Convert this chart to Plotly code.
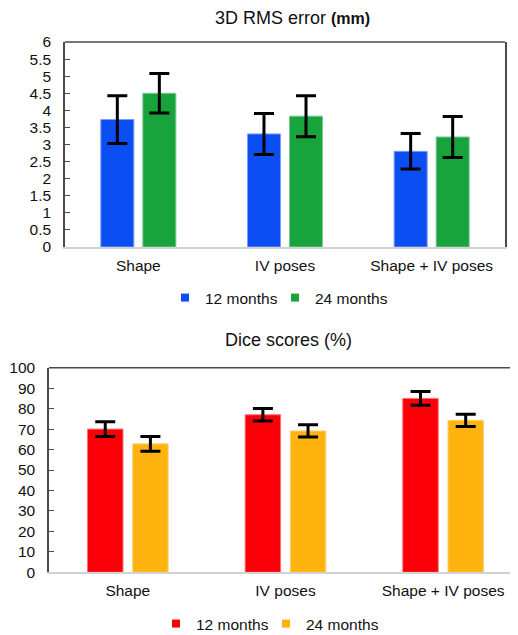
import plotly.graph_objects as go

categories = ["Shape", "IV poses", "Shape + IV poses"]
series_names = ["12 months", "24 months"]

rms_12 = [3.73, 3.31, 2.80]
rms_12_err = [0.70, 0.60, 0.52]
rms_24 = [4.50, 3.83, 3.22]
rms_24_err = [0.58, 0.60, 0.60]

dice_12 = [70.0, 77.0, 85.0]
dice_12_err = [3.6, 3.0, 3.4]
dice_24 = [62.8, 69.1, 74.3]
dice_24_err = [3.6, 3.0, 3.0]

rms_ticks = [0, 0.5, 1, 1.5, 2, 2.5, 3, 3.5, 4, 4.5, 5, 5.5, 6]
dice_ticks = [0, 10, 20, 30, 40, 50, 60, 70, 80, 90, 100]

BLUE = "#0a4ef4"
GREEN = "#18a33d"
RED = "#fc0008"
YELLOW = "#feb30f"
FONT = "Liberation Sans, Arial, Helvetica, sans-serif"

# the page body adds an 8px margin, so the figure is 8px smaller and
# reference pixel positions are shifted by 8px
OFF = 8
W, H = 518 - OFF, 635 - OFF

def px_x(v):
    return (v - OFF) / W

def px_y(v):
    return (H - (v - OFF)) / H

fig = go.Figure()

def add_bar(x, y, err, color, edge, name, xa, ya, legend):
    fig.add_trace(go.Bar(
        x=x, y=y, name=name, xaxis=xa, yaxis=ya,
        marker=dict(color=color, line=dict(color=edge, width=1)),
        error_y=dict(type="data", array=err, visible=True, color="black",
                     thickness=3, width=10),
        showlegend=False, legend=legend,
    ))

def add_legend_item(name, color, xa, ya, legend):
    fig.add_trace(go.Scatter(
        x=[None], y=[None], mode="markers", name=name, xaxis=xa, yaxis=ya,
        marker=dict(symbol="square", size=8, color=color),
        showlegend=True, legend=legend,
    ))

add_bar(categories, rms_12, rms_12_err, BLUE, "#7d9cf6", series_names[0], "x", "y", "legend")
add_bar(categories, rms_24, rms_24_err, GREEN, "#80c796", series_names[1], "x", "y", "legend")
add_bar(categories, dice_12, dice_12_err, RED, "#fd7075", series_names[0], "x2", "y2", "legend2")
add_bar(categories, dice_24, dice_24_err, YELLOW, "#fed27a", series_names[1], "x2", "y2", "legend2")

add_legend_item(series_names[0], BLUE, "x", "y", "legend")
add_legend_item(series_names[1], GREEN, "x", "y", "legend")
add_legend_item(series_names[0], RED, "x2", "y2", "legend2")
add_legend_item(series_names[1], YELLOW, "x2", "y2", "legend2")

dark = "#4a4a4a"
light = "#d2d2d2"

xcommon = dict(type="category", showgrid=False, zeroline=False, showline=True,
               linecolor=light, linewidth=2, ticks="",
               tickfont=dict(size=15.5, color="#111", family=FONT),
               ticklabelstandoff=3, automargin=False)
ycommon = dict(showgrid=False, zeroline=False, showline=True, linecolor=dark,
               linewidth=1.5, ticks="inside", ticklen=5, tickcolor=dark,
               tickwidth=1, tickfont=dict(size=15.5, color="#111", family=FONT),
               ticklabelstandoff=9, automargin=False)

legend_common = dict(orientation="h", xanchor="left", yanchor="middle",
                     font=dict(size=15.5, color="#111", family=FONT),
                     bgcolor="rgba(0,0,0,0)", entrywidth=80,
                     entrywidthmode="pixels", indentation=-15)

fig.update_layout(
    width=W, height=H,
    margin=dict(l=0, r=0, t=0, b=0, autoexpand=False),
    paper_bgcolor="white", plot_bgcolor="white",
    font=dict(family=FONT, color="#111"),
    barmode="group", bargap=0.427, bargroupgap=0.214,
    xaxis=dict(xcommon, domain=[px_x(65), px_x(505)], anchor="y",
               range=[-0.5, 2.5]),
    yaxis=dict(ycommon, domain=[px_y(247), px_y(42)], anchor="x",
               range=[0, 6], tickvals=rms_ticks, mirror=True),
    xaxis2=dict(xcommon, domain=[px_x(49), 1.0], anchor="y2",
                range=[-0.5, 2.475]),
    yaxis2=dict(ycommon, domain=[px_y(572.3), px_y(367.7)], anchor="x2",
                range=[0, 100], tickvals=dice_ticks),
    legend=dict(legend_common, x=px_x(180), y=px_y(298)),
    legend2=dict(legend_common, x=px_x(171), y=px_y(624)),
    showlegend=True,
    annotations=[
        dict(text="3D RMS error <span style='font-size:16px'><b>(mm)</b></span>",
             x=px_x(292), y=px_y(18), xref="paper", yref="paper",
             xanchor="center", yanchor="middle", showarrow=False,
             font=dict(size=18, color="#111", family=FONT)),
        dict(text="Dice scores (%)",
             x=px_x(288), y=px_y(340), xref="paper", yref="paper",
             xanchor="center", yanchor="middle", showarrow=False,
             font=dict(size=18, color="#111", family=FONT)),
    ],
    shapes=[
        dict(type="line", xref="x domain", yref="y domain", x0=0, x1=1, y0=1, y1=1,
             line=dict(color=dark, width=1.5)),
        dict(type="line", xref="x2 domain", yref="y2 domain", x0=0, x1=1, y0=1, y1=1,
             line=dict(color=dark, width=1.5)),
    ],
)

fig.write_html("out.html")
